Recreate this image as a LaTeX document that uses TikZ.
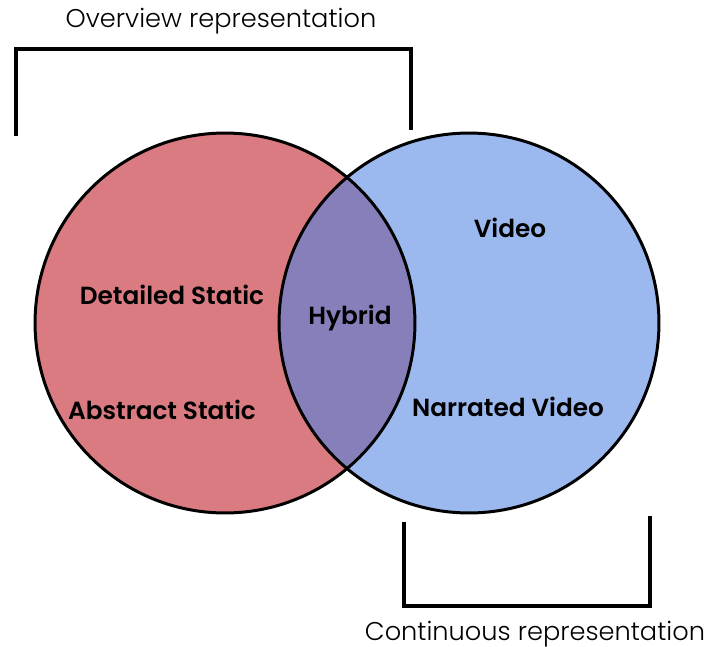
\documentclass[tikz,border=0pt]{standalone}
\usepackage{fontspec}
\setmainfont{Poppins}
\newfontfamily\medfont{Poppins SemiBold}
\newfontfamily\thinfont{Poppins Light}
\usepackage{tikz}
\usetikzlibrary{positioning}
\usepackage{xcolor}
\definecolor{SetRed}{RGB}{217,123,128}
\definecolor{SetBlue}{RGB}{155,185,238}
\definecolor{SetBoth}{RGB}{135,127,186}

\begin{document}
\begin{tikzpicture}[
  x=0.02cm, y=-0.02cm,
  set/.style={circle, minimum size=7.6cm, inner sep=0pt},
  rim/.style={line width=1.7pt},
  lbl/.style={font=\fontsize{14.1}{16}\medfont},
  brktext/.style={font=\fontsize{14.6}{17}\thinfont},
  brk/.style={line width=1.8pt}
]
  \useasboundingbox (0,0) rectangle (708,647);

  % the two sets
  \node[set, fill=SetRed] (stat) at (225,323) {};
  \node[set, fill=SetBlue] (vid) at (469,323) {};
  \begin{scope}
    \clip (stat.center) circle[radius=3.8cm];
    \fill[SetBoth] (vid.center) circle[radius=3.8cm];
  \end{scope}
  \draw[rim] (stat.center) circle[radius=3.8cm];
  \draw[rim] (vid.center) circle[radius=3.8cm];

  % labels
  \node[lbl] (detailed) at (172,295) {Detailed Static};
  \node[lbl] (abstract) at (162,410) {Abstract Static};
  \node[lbl] (hybrid) at (350,318) {Hybrid};
  \node[lbl] (video) at (510,228) {Video};
  \node[lbl] (narrated) at (508,407) {Narrated Video};

  % overview bracket
  \coordinate (ov1) at (16,136);
  \coordinate (ov2) at (411,130);
  \draw[brk] (ov1) |- (16,49) -| (ov2);
  \node[brktext] (overview) at (221,21) {Overview representation};

  % continuous bracket
  \coordinate (co1) at (404,522);
  \coordinate (co2) at (650,516);
  \draw[brk] (co1) |- (404,606) -| (co2);
  \node[brktext] (continuous) at (535,634) {Continuous representation};
\end{tikzpicture}
\end{document}
